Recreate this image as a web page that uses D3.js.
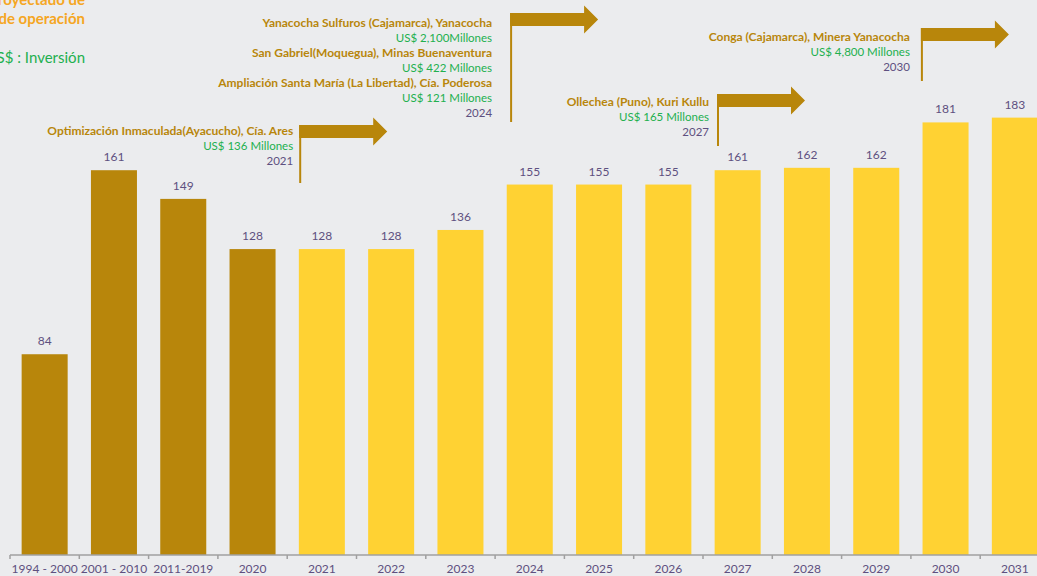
<!DOCTYPE html>
<html>
<head>
<meta charset="utf-8">
<script src="https://cdn.jsdelivr.net/npm/d3@7"></script>
<style>
  body { margin: 0; background: #ebecee; }
  svg { display: block; font-family: Lato, "Open Sans", sans-serif; }
</style>
</head>
<body>
<svg id="chart" width="1037" height="576"></svg>
<script>
// periods on the x axis
var categories = ["1994 - 2000", "2001 - 2010", "2011-2019", "2020", "2021", "2022", "2023",
  "2024", "2025", "2026", "2027", "2028", "2029", "2030", "2031"];
// production (values shown above bars)
var values = [84, 161, 149, 128, 128, 128, 136, 155, 155, 155, 161, 162, 162, 181, 183];
// historic periods drawn darker, projections lighter
var projected = [false, false, false, false, true, true, true, true, true, true, true, true, true, true, true];

// project annotations
var projYears = ["2021", "2024", "2027", "2030"];
var projNames = [
  ["Optimización Inmaculada(Ayacucho), Cía. Ares"],
  ["Yanacocha Sulfuros (Cajamarca), Yanacocha", "San Gabriel(Moquegua), Minas Buenaventura", "Ampliación Santa María (La Libertad), Cía. Poderosa"],
  ["Ollechea (Puno), Kuri Kullu"],
  ["Conga (Cajamarca), Minera Yanacocha"]
];
var projInvest = [
  ["US$ 136 Millones"],
  ["US$ 2,100Millones", "US$ 422 Millones", "US$ 121 Millones"],
  ["US$ 165 Millones"],
  ["US$ 4,800 Millones"]
];

var legendLines = ["Año proyectado de", "inicio de operación"];
var legendInvest = "US$ : Inversión";

var dark = "#b8860b", light = "#ffd233", labelColor = "#5e5080", green = "#22b04e", orange = "#f5a623";

var svg = d3.select("#chart");

// the plot runs past the right edge of the picture, like the original slide crop
var x = d3.scaleBand().domain(categories).range([10, 1049.5]).paddingInner(0.336).paddingOuter(0.168);
var y = d3.scaleLinear().domain([0, 200]).range([555, 77]);
var step = x.step();
var bandStart = function(d) { return x(d) - x.paddingOuter() * step; };

// bars
svg.selectAll("rect.bar")
  .data(values)
  .enter().append("rect")
  .attr("class", "bar")
  .attr("x", function(d, i) { return x(categories[i]); })
  .attr("y", function(d) { return y(d); })
  .attr("width", x.bandwidth())
  .attr("height", function(d) { return y(0) - y(d); })
  .attr("fill", function(d, i) { return projected[i] ? light : dark; });

// value labels
svg.selectAll("text.val")
  .data(values)
  .enter().append("text")
  .attr("class", "val")
  .attr("x", function(d, i) { return x(categories[i]) + x.bandwidth() / 2; })
  .attr("y", function(d) { return y(d) - 9; })
  .attr("text-anchor", "middle")
  .attr("font-size", 12)
  .attr("fill", labelColor)
  .text(function(d) { return d; });

// x axis
var axis = svg.append("g").attr("transform", "translate(0,555)")
  .call(d3.axisBottom(x).tickSize(0));
axis.select(".domain").attr("stroke", "#a0a0a0").attr("stroke-width", 1.5).attr("d", "M10,0H1037");
axis.selectAll("text")
  .attr("y", 18).attr("dy", null)
  .attr("font-size", 12).attr("fill", labelColor).attr("font-family", "Lato, sans-serif");
axis.selectAll("line.sep")
  .data(categories)
  .enter().append("line")
  .attr("class", "sep")
  .attr("x1", bandStart)
  .attr("x2", bandStart)
  .attr("y1", 0).attr("y2", 4)
  .attr("stroke", "#a0a0a0").attr("stroke-width", 1.5);

// annotation layout (arrow offset from band, top of arrow, bottom of stem, text right edge, first baseline)
var annLayout = [
  { dx: 12, top: 125, bottom: 183, textDx: -6, base: 135 },
  { dx: 15, top: 13, bottom: 122, textDx: -18, base: 27 },
  { dx: 14, top: 94, bottom: 146, textDx: -8, base: 106 },
  { dx: 10, top: 28, bottom: 81, textDx: -11, base: 41 }
];

projYears.forEach(function(yr, i) {
  var L = annLayout[i];
  var ax = bandStart(yr) + L.dx;
  var g = svg.append("g");
  var sh = 13, len = 74, head = 14, hh = 14;
  var cy = L.top + sh / 2;
  g.append("path")
    .attr("d", "M" + ax + "," + L.top + "H" + (ax + len) + "V" + (cy - hh) + "L" + (ax + len + head) + "," + cy +
      "L" + (ax + len) + "," + (cy + hh) + "V" + (L.top + sh) + "H" + ax + "Z")
    .attr("fill", dark);
  g.append("line")
    .attr("x1", ax + 1).attr("x2", ax + 1)
    .attr("y1", L.top).attr("y2", L.bottom)
    .attr("stroke", dark).attr("stroke-width", 2);

  var lines = [];
  projNames[i].forEach(function(n, j) {
    lines.push({ t: n, c: dark, w: "bold", s: 12 });
    lines.push({ t: projInvest[i][j], c: green, w: "normal", s: 11.5 });
  });
  lines.push({ t: yr, c: labelColor, w: "normal", s: 11.5 });
  g.selectAll("text")
    .data(lines)
    .enter().append("text")
    .attr("x", ax + L.textDx)
    .attr("y", function(d, j) { return L.base + j * 15; })
    .attr("text-anchor", "end")
    .attr("font-size", function(d) { return d.s; })
    .attr("font-weight", function(d) { return d.w; })
    .attr("fill", function(d) { return d.c; })
    .text(function(d) { return d.t; });
});

// legend in the corner (cut by the frame, as in the source)
svg.selectAll("text.leg")
  .data(legendLines)
  .enter().append("text")
  .attr("class", "leg")
  .attr("x", 85)
  .attr("y", function(d, i) { return 5 + i * 19; })
  .attr("text-anchor", "end")
  .attr("font-size", 15)
  .attr("font-weight", "bold")
  .attr("fill", orange)
  .text(function(d) { return d; });
svg.append("text")
  .attr("x", 85).attr("y", 63)
  .attr("text-anchor", "end")
  .attr("font-size", 15)
  .attr("fill", green)
  .text(legendInvest);
</script>
</body>
</html>
